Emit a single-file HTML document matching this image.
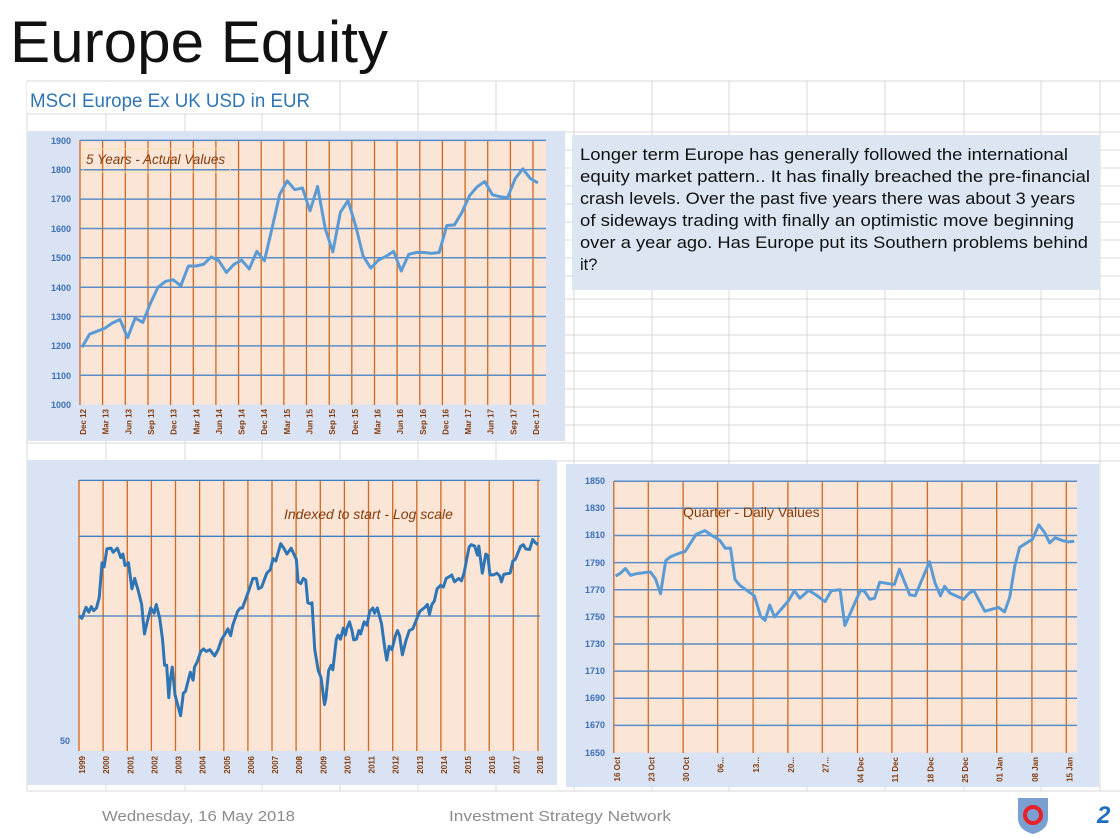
<!DOCTYPE html>
<html><head><meta charset="utf-8"><style>
html,body{margin:0;padding:0;background:#fff;}
svg{display:block;font-family:"Liberation Sans",sans-serif;}
</style></head><body>
<svg width="1120" height="838" viewBox="0 0 1120 838" xmlns="http://www.w3.org/2000/svg">
<rect width="1120" height="838" fill="#fff"/>
<g stroke="#d9d9d9" stroke-width="1">
<line x1="27" y1="81" x2="1120" y2="81"/>
<line x1="27" y1="114" x2="1120" y2="114"/>
<line x1="27" y1="132" x2="1120" y2="132"/><line x1="27" y1="150" x2="1120" y2="150"/><line x1="27" y1="168" x2="1120" y2="168"/><line x1="27" y1="186" x2="1120" y2="186"/><line x1="27" y1="204" x2="1120" y2="204"/><line x1="27" y1="222" x2="1120" y2="222"/><line x1="27" y1="240" x2="1120" y2="240"/><line x1="27" y1="258" x2="1120" y2="258"/><line x1="27" y1="276" x2="1120" y2="276"/><line x1="27" y1="299" x2="1120" y2="299"/><line x1="27" y1="317" x2="1120" y2="317"/><line x1="27" y1="335" x2="1120" y2="335"/><line x1="27" y1="353" x2="1120" y2="353"/><line x1="27" y1="371" x2="1120" y2="371"/><line x1="27" y1="389" x2="1120" y2="389"/><line x1="27" y1="407" x2="1120" y2="407"/><line x1="27" y1="425" x2="1120" y2="425"/><line x1="27" y1="443" x2="1120" y2="443"/><line x1="27" y1="461" x2="1120" y2="461"/><line x1="27" y1="791" x2="1120" y2="791"/>
<line x1="27" y1="81" x2="27" y2="791"/><line x1="106" y1="81" x2="106" y2="791"/><line x1="185" y1="81" x2="185" y2="791"/><line x1="262" y1="81" x2="262" y2="791"/><line x1="340" y1="81" x2="340" y2="791"/><line x1="418" y1="81" x2="418" y2="791"/><line x1="496" y1="81" x2="496" y2="791"/><line x1="574" y1="81" x2="574" y2="791"/><line x1="652" y1="81" x2="652" y2="791"/><line x1="729" y1="81" x2="729" y2="791"/><line x1="807" y1="81" x2="807" y2="791"/><line x1="885" y1="81" x2="885" y2="791"/><line x1="964" y1="81" x2="964" y2="791"/><line x1="1041" y1="81" x2="1041" y2="791"/><line x1="1100" y1="81" x2="1100" y2="791"/>
</g>
<rect x="27" y="82" width="300" height="31" fill="#fff"/>

<text x="10" y="62" font-size="58" fill="#111" textLength="378" lengthAdjust="spacingAndGlyphs">Europe Equity</text>
<text x="30" y="107" font-size="19" fill="#2e75b6" textLength="280" lengthAdjust="spacingAndGlyphs">MSCI Europe Ex UK USD  in  EUR</text>

<!-- Chart 1 -->
<rect x="27" y="131" width="538" height="310" fill="#dae3f3"/>
<rect x="80" y="140.4" width="466" height="264.2" fill="#fbe5d6"/>
<g stroke="#d2671f" stroke-width="1.3">
<line x1="80" y1="140" x2="80" y2="405"/><line x1="102.6" y1="140" x2="102.6" y2="405"/><line x1="125.3" y1="140" x2="125.3" y2="405"/><line x1="148" y1="140" x2="148" y2="405"/><line x1="170.6" y1="140" x2="170.6" y2="405"/><line x1="193.3" y1="140" x2="193.3" y2="405"/><line x1="215.9" y1="140" x2="215.9" y2="405"/><line x1="238.6" y1="140" x2="238.6" y2="405"/><line x1="261.2" y1="140" x2="261.2" y2="405"/><line x1="283.9" y1="140" x2="283.9" y2="405"/><line x1="306.5" y1="140" x2="306.5" y2="405"/><line x1="329.2" y1="140" x2="329.2" y2="405"/><line x1="351.8" y1="140" x2="351.8" y2="405"/><line x1="374.5" y1="140" x2="374.5" y2="405"/><line x1="397.1" y1="140" x2="397.1" y2="405"/><line x1="419.8" y1="140" x2="419.8" y2="405"/><line x1="442.4" y1="140" x2="442.4" y2="405"/><line x1="465.1" y1="140" x2="465.1" y2="405"/><line x1="487.7" y1="140" x2="487.7" y2="405"/><line x1="510.4" y1="140" x2="510.4" y2="405"/><line x1="533" y1="140" x2="533" y2="405"/>
</g>
<g stroke="#5b8cc4" stroke-width="1.5">
<line x1="80" y1="140.4" x2="546" y2="140.4"/><line x1="80" y1="169.8" x2="546" y2="169.8"/><line x1="80" y1="199.1" x2="546" y2="199.1"/><line x1="80" y1="228.5" x2="546" y2="228.5"/><line x1="80" y1="257.8" x2="546" y2="257.8"/><line x1="80" y1="287.2" x2="546" y2="287.2"/><line x1="80" y1="316.5" x2="546" y2="316.5"/><line x1="80" y1="345.9" x2="546" y2="345.9"/><line x1="80" y1="375.2" x2="546" y2="375.2"/>
</g>
<g font-size="9" font-weight="bold" fill="#3d6fb4" text-anchor="end">
<text x="71" y="144">1900</text><text x="71" y="173">1800</text><text x="71" y="202">1700</text><text x="71" y="232">1600</text><text x="71" y="261">1500</text><text x="71" y="291">1400</text><text x="71" y="320">1300</text><text x="71" y="349">1200</text><text x="71" y="379">1100</text><text x="71" y="408">1000</text>
</g>
<rect x="83" y="149" width="147" height="23" fill="none" stroke="#f5e6b0" stroke-width="1"/>
<text x="86" y="164" font-size="13.5" font-style="italic" fill="#843c0c">5 Years - Actual Values</text>
<polyline fill="none" stroke="#5b9bd5" stroke-width="3" vector-effect="non-scaling-stroke" stroke-linejoin="round" transform="matrix(7.6,0,0,-0.2936,82,698.2)" points="0,1195 1,1240 2,1250 3,1260 4,1278 5,1290 6,1228 7,1295 8,1280 9,1345 10,1400 11,1420 12,1425 13,1405 14,1472 15,1472 16,1478 17,1503 18,1490 19,1450 20,1478 21,1492 22,1462 23,1522 24,1490 25,1600 26,1715 27,1762 28,1732 29,1738 30,1660 31,1743 32,1600 33,1520 34,1655 35,1695 36,1610 37,1505 38,1465 39,1492 40,1505 41,1522 42,1455 43,1512 44,1518 45,1518 46,1515 47,1518 48,1610 49,1612 50,1655 51,1712 52,1742 53,1760 54,1715 55,1708 56,1705 57,1770 58,1803 59,1770 60,1755"/>
<g font-size="8" font-weight="bold" fill="#843c0c" text-anchor="end">
<text transform="translate(86,409) rotate(-90)">Dec 12</text><text transform="translate(108.6,409) rotate(-90)">Mar 13</text><text transform="translate(131.3,409) rotate(-90)">Jun 13</text><text transform="translate(154,409) rotate(-90)">Sep 13</text><text transform="translate(176.6,409) rotate(-90)">Dec 13</text><text transform="translate(199.3,409) rotate(-90)">Mar 14</text><text transform="translate(221.9,409) rotate(-90)">Jun 14</text><text transform="translate(244.6,409) rotate(-90)">Sep 14</text><text transform="translate(267.2,409) rotate(-90)">Dec 14</text><text transform="translate(289.9,409) rotate(-90)">Mar 15</text><text transform="translate(312.5,409) rotate(-90)">Jun 15</text><text transform="translate(335.2,409) rotate(-90)">Sep 15</text><text transform="translate(357.8,409) rotate(-90)">Dec 15</text><text transform="translate(380.5,409) rotate(-90)">Mar 16</text><text transform="translate(403.1,409) rotate(-90)">Jun 16</text><text transform="translate(425.8,409) rotate(-90)">Sep 16</text><text transform="translate(448.4,409) rotate(-90)">Dec 16</text><text transform="translate(471.1,409) rotate(-90)">Mar 17</text><text transform="translate(493.7,409) rotate(-90)">Jun 17</text><text transform="translate(516.4,409) rotate(-90)">Sep 17</text><text transform="translate(539,409) rotate(-90)">Dec 17</text>
</g>

<!-- Text box -->
<rect x="572" y="135" width="528" height="155" fill="#dce6f2"/>
<g font-size="16.5" fill="#111" lengthAdjust="spacingAndGlyphs">
<text x="580" y="160" textLength="488" lengthAdjust="spacingAndGlyphs">Longer term Europe has generally followed the international</text>
<text x="580" y="182" textLength="510" lengthAdjust="spacingAndGlyphs">equity market pattern.. It has finally breached the pre-financial</text>
<text x="580" y="204" textLength="495" lengthAdjust="spacingAndGlyphs">crash levels.  Over the past five years there was about 3 years</text>
<text x="580" y="226" textLength="494" lengthAdjust="spacingAndGlyphs">of sideways trading with finally an optimistic move beginning</text>
<text x="580" y="248" textLength="508" lengthAdjust="spacingAndGlyphs">over a year ago.  Has Europe put its Southern problems behind</text>
<text x="580" y="270">it?</text>
</g>

<!-- Chart 2 -->
<rect x="27" y="460" width="530" height="325" fill="#dae3f3"/>
<rect x="79" y="480.4" width="461" height="270.6" fill="#fbe5d6"/>
<g stroke="#d2671f" stroke-width="1.3">
<line x1="79" y1="480" x2="79" y2="751"/><line x1="103.1" y1="480" x2="103.1" y2="751"/><line x1="127.3" y1="480" x2="127.3" y2="751"/><line x1="151.4" y1="480" x2="151.4" y2="751"/><line x1="175.5" y1="480" x2="175.5" y2="751"/><line x1="199.6" y1="480" x2="199.6" y2="751"/><line x1="223.8" y1="480" x2="223.8" y2="751"/><line x1="247.9" y1="480" x2="247.9" y2="751"/><line x1="272" y1="480" x2="272" y2="751"/><line x1="296.1" y1="480" x2="296.1" y2="751"/><line x1="320.3" y1="480" x2="320.3" y2="751"/><line x1="344.4" y1="480" x2="344.4" y2="751"/><line x1="368.5" y1="480" x2="368.5" y2="751"/><line x1="392.7" y1="480" x2="392.7" y2="751"/><line x1="416.8" y1="480" x2="416.8" y2="751"/><line x1="440.9" y1="480" x2="440.9" y2="751"/><line x1="465" y1="480" x2="465" y2="751"/><line x1="489.2" y1="480" x2="489.2" y2="751"/><line x1="513.3" y1="480" x2="513.3" y2="751"/><line x1="538" y1="480" x2="538" y2="751"/>
</g>
<g stroke="#3f7dc0" stroke-width="1.3">
<line x1="79" y1="480.4" x2="540" y2="480.4"/><line x1="79" y1="536.3" x2="540" y2="536.3"/><line x1="79" y1="616" x2="540" y2="616"/>
</g>
<text x="70" y="744" font-size="9" font-weight="bold" fill="#3d6fb4" text-anchor="end">50</text>
<text x="284" y="519" font-size="14" font-style="italic" fill="#843c0c">Indexed to start  -  Log scale</text>
<polyline fill="none" stroke="#2e75b6" stroke-width="3" vector-effect="non-scaling-stroke" stroke-linejoin="round" transform="translate(20,455) scale(0.3476)" points="170,462 178,470 190,438 198,452 205,436 212,448 220,440 228,410 236,310 242,322 250,270 262,268 268,280 280,268 290,295 296,285 302,318 312,310 322,385 330,355 340,390 350,430 358,515 366,480 376,440 386,455 392,430 402,470 410,530 416,605 422,605 428,698 432,650 438,610 446,690 462,750 470,685 476,680 490,625 498,648 502,610 510,595 520,565 528,558 536,565 546,560 552,568 560,578 570,560 580,530 590,515 598,500 606,520 612,490 626,450 634,440 640,440 660,385 670,355 680,355 686,385 695,380 710,340 720,330 728,298 736,305 750,255 760,270 768,285 780,268 790,290 795,300 800,365 808,370 815,355 822,360 828,425 835,428 840,425 848,560 858,620 866,640 876,718 880,700 888,620 895,605 900,618 910,530 915,518 922,530 930,498 936,518 940,500 948,480 955,505 960,532 968,530 975,505 980,515 990,480 998,490 1006,450 1015,440 1020,455 1028,440 1040,485 1050,560 1055,590 1062,550 1070,560 1080,520 1086,505 1092,520 1100,575 1110,535 1120,505 1130,500 1140,475 1150,450 1165,438 1172,430 1178,458 1185,430 1192,420 1200,385 1210,375 1218,380 1226,355 1235,350 1242,345 1250,365 1262,355 1270,362 1278,338 1285,300 1292,265 1298,258 1308,262 1316,288 1320,262 1330,340 1340,285 1346,290 1352,345 1362,345 1372,340 1380,348 1385,365 1392,343 1410,340 1418,305 1425,300 1440,263 1448,258 1455,270 1466,272 1475,243 1482,252 1490,258"/>
<g font-size="8" font-weight="bold" fill="#843c0c" text-anchor="end">
<text transform="translate(85,756) rotate(-90)">1999</text><text transform="translate(109.1,756) rotate(-90)">2000</text><text transform="translate(133.3,756) rotate(-90)">2001</text><text transform="translate(157.4,756) rotate(-90)">2002</text><text transform="translate(181.5,756) rotate(-90)">2003</text><text transform="translate(205.6,756) rotate(-90)">2004</text><text transform="translate(229.8,756) rotate(-90)">2005</text><text transform="translate(253.9,756) rotate(-90)">2006</text><text transform="translate(278,756) rotate(-90)">2007</text><text transform="translate(302.1,756) rotate(-90)">2008</text><text transform="translate(326.3,756) rotate(-90)">2009</text><text transform="translate(350.4,756) rotate(-90)">2010</text><text transform="translate(374.5,756) rotate(-90)">2011</text><text transform="translate(398.7,756) rotate(-90)">2012</text><text transform="translate(422.8,756) rotate(-90)">2013</text><text transform="translate(446.9,756) rotate(-90)">2014</text><text transform="translate(471,756) rotate(-90)">2015</text><text transform="translate(495.2,756) rotate(-90)">2016</text><text transform="translate(519.3,756) rotate(-90)">2017</text><text transform="translate(543,756) rotate(-90)">2018</text>
</g>

<!-- Chart 3 -->
<rect x="566" y="464" width="533" height="323" fill="#dae3f3"/>
<rect x="614" y="481.2" width="463" height="271.3" fill="#fbe5d6"/>
<g stroke="#d2671f" stroke-width="1.3">
<line x1="613.8" y1="481" x2="613.8" y2="753"/><line x1="648.3" y1="481" x2="648.3" y2="753"/><line x1="683.1" y1="481" x2="683.1" y2="753"/><line x1="717.6" y1="481" x2="717.6" y2="753"/><line x1="753.1" y1="481" x2="753.1" y2="753"/><line x1="787.9" y1="481" x2="787.9" y2="753"/><line x1="822.3" y1="481" x2="822.3" y2="753"/><line x1="857.5" y1="481" x2="857.5" y2="753"/><line x1="891.9" y1="481" x2="891.9" y2="753"/><line x1="927.4" y1="481" x2="927.4" y2="753"/><line x1="961.9" y1="481" x2="961.9" y2="753"/><line x1="996.7" y1="481" x2="996.7" y2="753"/><line x1="1031.9" y1="481" x2="1031.9" y2="753"/><line x1="1066.3" y1="481" x2="1066.3" y2="753"/>
</g>
<g stroke="#5b8cc4" stroke-width="1.5">
<line x1="614" y1="481.2" x2="1077" y2="481.2"/><line x1="614" y1="508.3" x2="1077" y2="508.3"/><line x1="614" y1="535.5" x2="1077" y2="535.5"/><line x1="614" y1="562.6" x2="1077" y2="562.6"/><line x1="614" y1="589.7" x2="1077" y2="589.7"/><line x1="614" y1="616.9" x2="1077" y2="616.9"/><line x1="614" y1="644" x2="1077" y2="644"/><line x1="614" y1="671.1" x2="1077" y2="671.1"/><line x1="614" y1="698.2" x2="1077" y2="698.2"/><line x1="614" y1="725.4" x2="1077" y2="725.4"/>
</g>
<g font-size="9" font-weight="bold" fill="#3d6fb4" text-anchor="end">
<text x="605" y="484">1850</text><text x="605" y="511">1830</text><text x="605" y="538">1810</text><text x="605" y="566">1790</text><text x="605" y="593">1770</text><text x="605" y="620">1750</text><text x="605" y="647">1730</text><text x="605" y="674">1710</text><text x="605" y="701">1690</text><text x="605" y="728">1670</text><text x="605" y="756">1650</text>
</g>
<text x="683" y="517" font-size="14" fill="#843c0c">Quarter - Daily Values</text>
<polyline fill="none" stroke="#5b9bd5" stroke-width="3" vector-effect="non-scaling-stroke" stroke-linejoin="round" transform="translate(565,460) scale(0.3413)" points="148,340 162,332 177,318 192,338 210,333 250,328 265,348 280,392 295,295 310,283 330,275 352,268 384,218 410,207 432,222 454,236 470,259 485,258 498,350 512,367 530,380 555,398 573,458 586,470 600,425 614,460 655,412 672,383 688,405 714,382 735,395 762,415 780,383 806,380 820,485 866,381 878,385 893,408 907,405 922,358 965,365 980,320 1010,395 1026,398 1068,298 1084,360 1100,398 1112,370 1128,390 1168,408 1184,390 1198,383 1230,443 1270,432 1288,445 1303,402 1318,310 1332,256 1346,247 1370,232 1388,190 1405,212 1420,243 1436,228 1458,236 1475,240 1492,238"/>
<g font-size="8" font-weight="bold" fill="#843c0c" text-anchor="end">
<text transform="translate(620,757) rotate(-90)">16 Oct</text><text transform="translate(654.3,757) rotate(-90)">23 Oct</text><text transform="translate(689.1,757) rotate(-90)">30 Oct</text><text transform="translate(723.6,757) rotate(-90)">06...</text><text transform="translate(759.1,757) rotate(-90)">13...</text><text transform="translate(793.9,757) rotate(-90)">20...</text><text transform="translate(828.3,757) rotate(-90)">27...</text><text transform="translate(863.5,757) rotate(-90)">04 Dec</text><text transform="translate(897.9,757) rotate(-90)">11 Dec</text><text transform="translate(933.4,757) rotate(-90)">18 Dec</text><text transform="translate(967.9,757) rotate(-90)">25 Dec</text><text transform="translate(1002.7,757) rotate(-90)">01 Jan</text><text transform="translate(1037.9,757) rotate(-90)">08 Jan</text><text transform="translate(1072.3,757) rotate(-90)">15 Jan</text>
</g>

<!-- Footer -->
<text x="102" y="821" font-size="15" fill="#8c8c8c" textLength="193" lengthAdjust="spacingAndGlyphs">Wednesday, 16 May 2018</text>
<text x="449" y="821" font-size="15" fill="#8c8c8c" textLength="222" lengthAdjust="spacingAndGlyphs">Investment Strategy Network</text>
<path d="M1018,798 L1048,798 L1048,818 Q1048,830 1033,834 Q1018,830 1018,818 Z" fill="#7a9fd0"/>
<circle cx="1033" cy="815" r="8" fill="none" stroke="#e8202a" stroke-width="4"/>
<text x="1097" y="823" font-size="24" font-weight="bold" font-style="italic" fill="#1f6fc0">2</text>
</svg>
</body></html>
